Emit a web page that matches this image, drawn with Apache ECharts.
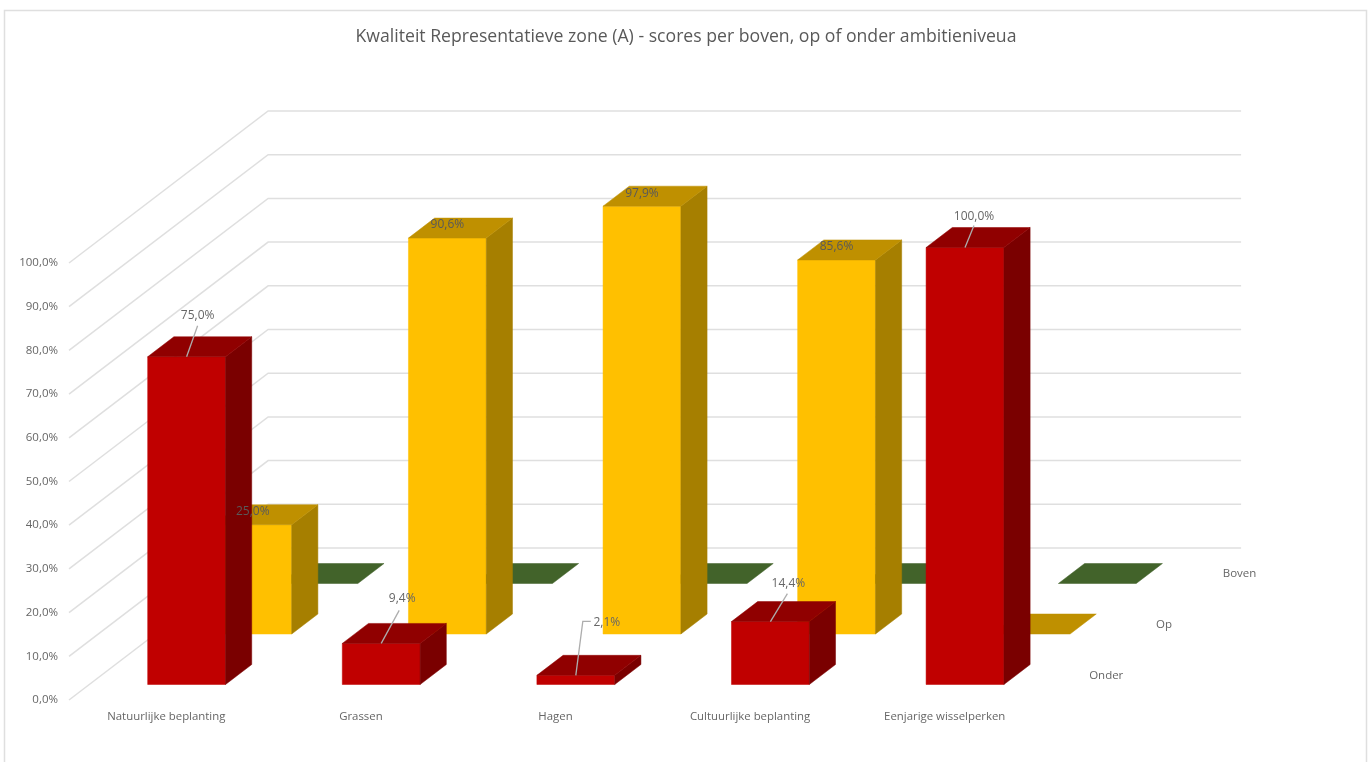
<!DOCTYPE html>
<html>
<head>
<meta charset="utf-8">
<style>html,body{margin:0;padding:0;background:#fff;overflow:hidden}#c{width:1371px;height:762px}</style>
<script src="https://cdn.jsdelivr.net/npm/echarts@6/dist/echarts.min.js"></script>
</head>
<body>
<div id="c"></div>
<script>
const chartTitle = 'Kwaliteit Representatieve zone (A) - scores per boven, op of onder ambitieniveua';
const categories = ['Natuurlijke beplanting', 'Grassen', 'Hagen', 'Cultuurlijke beplanting', 'Eenjarige wisselperken'];
const onder = [75.0, 9.4, 2.1, 14.4, 100.0];
const op = [25.0, 90.6, 97.9, 85.6, 0.0];
const boven = [0.0, 0.0, 0.0, 0.0, 0.0];
const valueTicks = [0, 10, 20, 30, 40, 50, 60, 70, 80, 90, 100];
const depthNames = ['Onder', 'Op', 'Boven'];

// Oblique projection of the Excel 3D look
const SKEW = 1.31, BACK = 152, BAR_DEPTH = 20, BAR_RATIO = 0.4;
const ONDER_DEPTH = 15.5, OP_DEPTH = 66, BOVEN_DEPTH = 116.5;
const depthLabelDepths = [23, 74, 125];
const FONT = '"Open Sans", sans-serif';
const TEXT = '#666666';
const fmt = v => v.toFixed(1).replace('.', ',') + '%';
const project = (p, d) => [p[0] + d * SKEW, p[1] - d];

// Label placement relative to the centre of the bar's front top edge
const onderLabelPlacement = [
  { dx: 11, dy: -41, leader: [[11, -31]] },
  { dx: 21, dy: -45, leader: [[18, -33]] },
  { dx: 31, dy: -53, leader: [[7, -54], [15, -54]] },
  { dx: 18, dy: -38, leader: [[17, -28]] },
  { dx: 9, dy: -31, leader: [[9, -22]] }
];
const opLabelPlacement = [0, 1, 2, 3, 4].map(() => ({ dx: 0, dy: -13, leader: null }));

function barSeries(name, values, depth, colors, z) {
  return {
    name, type: 'custom', coordinateSystem: 'cartesian2d', silent: true, z,
    encode: { x: 0, y: 1 },
    data: values.map((v, i) => [i, v]),
    renderItem(params, api) {
      const idx = api.value(0), val = api.value(1);
      const w = api.size([1, 0])[0] * BAR_RATIO;
      const base = project(api.coord([idx, 0]), depth);
      const top = project(api.coord([idx, val]), depth);
      const x0 = base[0] - w / 2, x1 = base[0] + w / 2;
      const bd = BAR_DEPTH, bx = BAR_DEPTH * SKEW;
      const children = [];
      const poly = (points, fill) => children.push({
        type: 'polygon', shape: { points }, style: { fill, stroke: fill, lineWidth: 0.5 }
      });
      if (val > 0) {
        poly([[x0, base[1]], [x1, base[1]], [x1, top[1]], [x0, top[1]]], colors.front);
        poly([[x1, base[1]], [x1 + bx, base[1] - bd], [x1 + bx, top[1] - bd], [x1, top[1]]], colors.side);
      }
      poly([[x0, top[1]], [x1, top[1]], [x1 + bx, top[1] - bd], [x0 + bx, top[1] - bd]], colors.top);
      return { type: 'group', children };
    }
  };
}

function labelSeries(values, depth, placement, color, z) {
  return {
    type: 'custom', coordinateSystem: 'cartesian2d', silent: true, z,
    encode: { x: 0, y: 1 },
    data: values.map((v, i) => [i, v]),
    renderItem(params, api) {
      const idx = api.value(0), val = api.value(1);
      if (!(val > 0)) return null;
      const [cx, cy] = project(api.coord([idx, val]), depth);
      const pl = placement[idx];
      const children = [];
      if (pl.leader) {
        children.push({
          type: 'polyline',
          shape: { points: [[cx, cy]].concat(pl.leader.map(q => [cx + q[0], cy + q[1]])) },
          style: { stroke: '#adadad', lineWidth: 1.3, fill: null }
        });
      }
      children.push({
        type: 'text',
        style: { x: cx + pl.dx, y: cy + pl.dy, text: fmt(val), align: 'center', verticalAlign: 'middle',
                 fill: color, fontSize: 12, fontFamily: FONT }
      });
      return { type: 'group', children };
    }
  };
}

const option = {
  animation: false,
  backgroundColor: '#ffffff',
  title: {
    text: chartTitle, left: 681, top: 23, textAlign: 'center',
    textStyle: { fontFamily: FONT, fontSize: 17.65, fontWeight: 'normal', color: '#595959' }
  },
  graphic: [{
    type: 'rect', z: -1, silent: true,
    shape: { x: 4.5, y: 10.5, width: 1362, height: 800 },
    style: { fill: 'none', stroke: '#dfdfdf', lineWidth: 1.5 }
  }],
  grid: { left: 69, top: 263, width: 973, height: 437 },
  xAxis: {
    type: 'category', data: categories,
    axisLine: { show: false }, axisTick: { show: false },
    axisLabel: { interval: 0, margin: 11, fontFamily: FONT, fontSize: 11.4, color: TEXT }
  },
  yAxis: {
    type: 'value', min: 0, max: 100, interval: 10,
    axisLine: { show: false }, axisTick: { show: false }, splitLine: { show: false },
    axisLabel: { margin: 11, fontFamily: FONT, fontSize: 11.5, color: TEXT, formatter: v => fmt(v) }
  },
  series: [
    {
      type: 'custom', coordinateSystem: 'cartesian2d', silent: true, z: 1,
      encode: { y: 0 },
      data: valueTicks.map(v => [v]),
      renderItem(params, api) {
        const band = api.size([1, 0])[0];
        const first = api.coord([0, api.value(0)]);
        const last = api.coord([categories.length - 1, api.value(0)]);
        const fl = [first[0] - band / 2, first[1]];
        const fr = [last[0] + band / 2, last[1]];
        return {
          type: 'polyline',
          shape: { points: [fl, project(fl, BACK), project(fr, BACK)] },
          style: { stroke: '#dfdfdf', lineWidth: 1.5, fill: null }
        };
      }
    },
    barSeries('Boven', boven, BOVEN_DEPTH, { front: '#548235', side: '#38571f', top: '#42632a' }, 2),
    barSeries('Op', op, OP_DEPTH, { front: '#ffc000', side: '#a67f00', top: '#bf9000' }, 3),
    barSeries('Onder', onder, ONDER_DEPTH, { front: '#c00000', side: '#7a0000', top: '#900000' }, 4),
    labelSeries(op, OP_DEPTH, opLabelPlacement, '#595959', 5),
    labelSeries(onder, ONDER_DEPTH, onderLabelPlacement, TEXT, 5),
    {
      type: 'custom', coordinateSystem: 'cartesian2d', silent: true, z: 5,
      encode: { y: 0 },
      data: depthNames.map(() => [0]),
      renderItem(params, api) {
        const band = api.size([1, 0])[0];
        const p = api.coord([categories.length - 1, 0]);
        const q = project([p[0] + band / 2, p[1]], depthLabelDepths[params.dataIndex]);
        return {
          type: 'text',
          style: { x: q[0] + 17, y: q[1] - 1, text: depthNames[params.dataIndex], align: 'left', verticalAlign: 'middle',
                   fill: TEXT, fontSize: 11.5, fontFamily: FONT }
        };
      }
    }
  ]
};
echarts.init(document.getElementById('c'), null, { renderer: 'canvas' }).setOption(option);
</script>
</body>
</html>
